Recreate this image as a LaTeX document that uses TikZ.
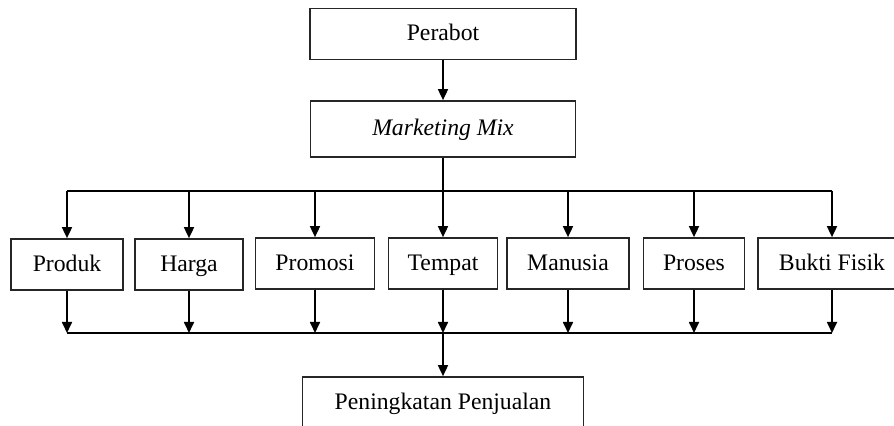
\documentclass[tikz,border=0pt]{standalone}
\usepackage{fontspec}
\setmainfont{Liberation Serif}
\usetikzlibrary{arrows.meta}

\begin{document}
\begin{tikzpicture}[x=.5pt, y=-.5pt, font=\fontsize{11.85}{14}\selectfont,
	kotak/.style={draw=black!85, line width=.85pt, inner sep=0pt, minimum height=25.5pt,
		text height=7.8pt, text depth=1pt},
	panah/.style={-{Triangle[width=5pt,length=5.5pt]}, line width=.85pt},
	garis/.style={line width=.85pt}]
	\useasboundingbox (0,0) rectangle (894,426);
	\clip (0,0) rectangle (894,426);

	\node[kotak, minimum width=133pt] (perabot) at (443,34)  {Perabot};
	\node[kotak, minimum width=132.5pt, minimum height=28pt] (mix) at (443,129) {\textit{Marketing Mix}};

	\node[kotak, minimum width=56pt]   (produk)  at (67,264.5)  {Produk};
	\node[kotak, minimum width=54pt]   (harga)   at (189,264.5) {Harga};
	\node[kotak, minimum width=59.5pt] (promosi) at (315,263.5) {Promosi};
	\node[kotak, minimum width=54.5pt] (tempat)  at (443,263.5) {Tempat};
	\node[kotak, minimum width=61pt]   (manusia) at (568,263.5) {Manusia};
	\node[kotak, minimum width=50.5pt] (proses)  at (694,263.5) {Proses};
	\node[kotak, minimum width=74pt]   (bukti)   at (832,263.5) {Bukti Fisik};

	\node[kotak, minimum width=140.5pt, minimum height=26pt] (hasil) at (443,403) {Peningkatan Penjualan};

	\coordinate (atas)  at (443,191);
	\coordinate (bawah) at (443,333);

	% perabot ke marketing mix
	\draw[panah] (perabot) -- (mix);

	% marketing mix ke tujuh unsur
	\draw[garis] (mix.south) -- (atas);
	\draw[garis] (produk |- atas) -- (bukti |- atas);
	\foreach \n in {produk,harga,promosi,tempat,manusia,proses,bukti}
		\draw[panah] (\n |- atas) -- (\n.north);

	% tujuh unsur ke penjualan
	\foreach \n in {produk,harga,promosi,tempat,manusia,proses,bukti}
		\draw[panah] (\n.south) -- (\n |- bawah);
	\draw[garis] (produk |- bawah) -- (bukti |- bawah);
	\draw[panah] (bawah) -- (hasil.north);

\end{tikzpicture}
\end{document}
